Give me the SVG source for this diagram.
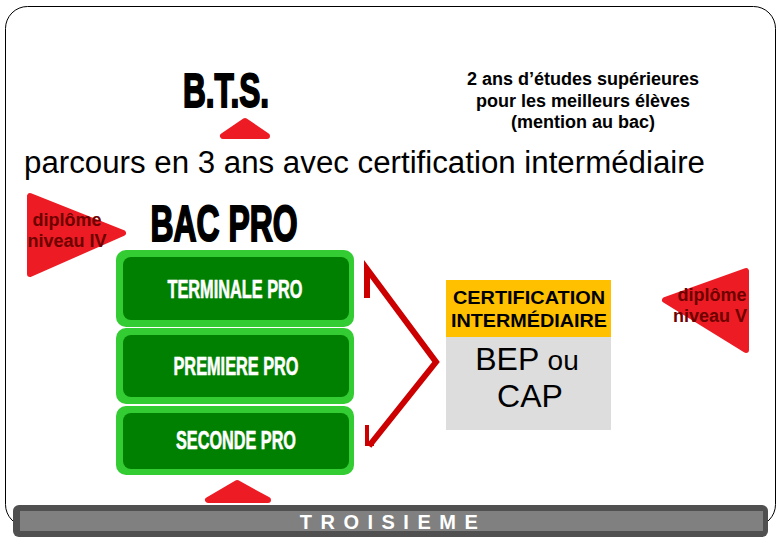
<svg xmlns="http://www.w3.org/2000/svg" width="780" height="540" viewBox="0 0 780 540">
<style>
.imp{font-family:"Liberation Sans","DejaVu Sans",sans-serif;font-weight:bold}
.lvl{font-family:"Liberation Sans",Arial,sans-serif;font-weight:bold;font-size:18px;fill:#6e0000;text-anchor:middle}
.green-o{fill:#33cc33}
.green-i{fill:#008000}
.red{fill:#ed1c24;stroke:#ed1c24;stroke-linejoin:round;stroke-width:6}
.wt{fill:#ffffff;font-size:25px;text-anchor:middle;stroke:#ffffff;stroke-width:0.6}
.sans{font-family:"Liberation Sans",Arial,sans-serif;fill:#000;text-anchor:middle}
</style>
<rect x="5.5" y="6.5" width="770" height="520" rx="22" fill="#ffffff" stroke="#000" stroke-width="1"/>

<g id="bts">
<text class="imp" x="226" y="107" font-size="48" text-anchor="middle" textLength="86" lengthAdjust="spacingAndGlyphs" fill="#000" stroke="#000" stroke-width="2">B.T.S.</text>
<polygon class="red" points="223,136 267,136 245,121"/>
</g>

<g id="bts-note" class="sans" font-weight="bold" font-size="18">
<text class="sans" x="583" y="85">2 ans d’études supérieures</text>
<text class="sans" x="583" y="107">pour les meilleurs élèves</text>
<text class="sans" x="583" y="128">(mention au bac)</text>
</g>

<text id="parcours" x="24" y="173" font-family="Liberation Sans,Arial,sans-serif" font-size="31" fill="#000" textLength="681" lengthAdjust="spacingAndGlyphs">parcours en 3 ans avec certification intermédiaire</text>

<g id="niveau4">
<polygon class="red" points="30,196 30,274 123,233"/>
<text class="lvl" x="67" y="226">diplôme</text>
<text class="lvl" x="67" y="247">niveau IV</text>
</g>

<g id="bacpro">
<text class="imp" x="224" y="241" font-size="50" text-anchor="middle" textLength="147" lengthAdjust="spacingAndGlyphs" fill="#000" stroke="#000" stroke-width="2">BAC PRO</text>
</g>

<g id="terminale">
<rect class="green-o" x="116" y="250" width="238" height="77" rx="10"/>
<rect class="green-i" x="123" y="257" width="226" height="63" rx="8"/>
<text class="imp wt" x="235" y="298" textLength="135" lengthAdjust="spacingAndGlyphs">TERMINALE PRO</text>
</g>
<g id="premiere">
<rect class="green-o" x="116" y="328" width="238" height="76" rx="10"/>
<rect class="green-i" x="123" y="335" width="226" height="62" rx="8"/>
<text class="imp wt" x="236" y="375" textLength="125" lengthAdjust="spacingAndGlyphs">PREMIERE PRO</text>
</g>
<g id="seconde">
<rect class="green-o" x="116" y="406" width="238" height="69" rx="10"/>
<rect class="green-i" x="123" y="413" width="226" height="56" rx="8"/>
<text class="imp wt" x="236" y="449" textLength="120" lengthAdjust="spacingAndGlyphs">SECONDE PRO</text>
</g>

<g id="connectors" fill="none" stroke="#cc0000" stroke-width="6" stroke-linejoin="miter">
<polyline points="367,298 367,269 436,362 369,446"/>
<polyline points="367,425 367,444 374,444" stroke-width="4"/>
</g>

<g id="certification">
<rect x="446" y="280" width="165" height="57" fill="#ffc000"/>
<rect x="446" y="337" width="165" height="93" fill="#dddddd"/>
<text class="sans" x="529" y="304" font-weight="bold" font-size="19" textLength="152" lengthAdjust="spacingAndGlyphs">CERTIFICATION</text>
<text class="sans" x="529" y="327" font-weight="bold" font-size="19" textLength="156" lengthAdjust="spacingAndGlyphs">INTERMÉDIAIRE</text>
<text class="sans" x="527" y="370" font-size="32">BEP <tspan font-size="28">ou</tspan></text>
<text class="sans" x="530" y="407" font-size="32">CAP</text>
</g>

<g id="niveau5">
<polygon class="red" points="746,271 746,350 665,300"/>
<text class="lvl" x="712" y="301">diplôme</text>
<text class="lvl" x="710" y="322">niveau V</text>
</g>

<g id="arrow-up">
<polygon class="red" points="208,500 268,500 237,483"/>
</g>

<g id="troisieme">
<rect x="13" y="505" width="755" height="32" rx="6" fill="#505050"/>
<rect x="20" y="511" width="743" height="20" fill="#808080"/>
<text x="393" y="529" font-family="Liberation Sans,Arial,sans-serif" font-weight="bold" font-size="20" letter-spacing="8.5" text-anchor="middle" fill="#ffffff">TROISIEME</text>
</g>
</svg>
